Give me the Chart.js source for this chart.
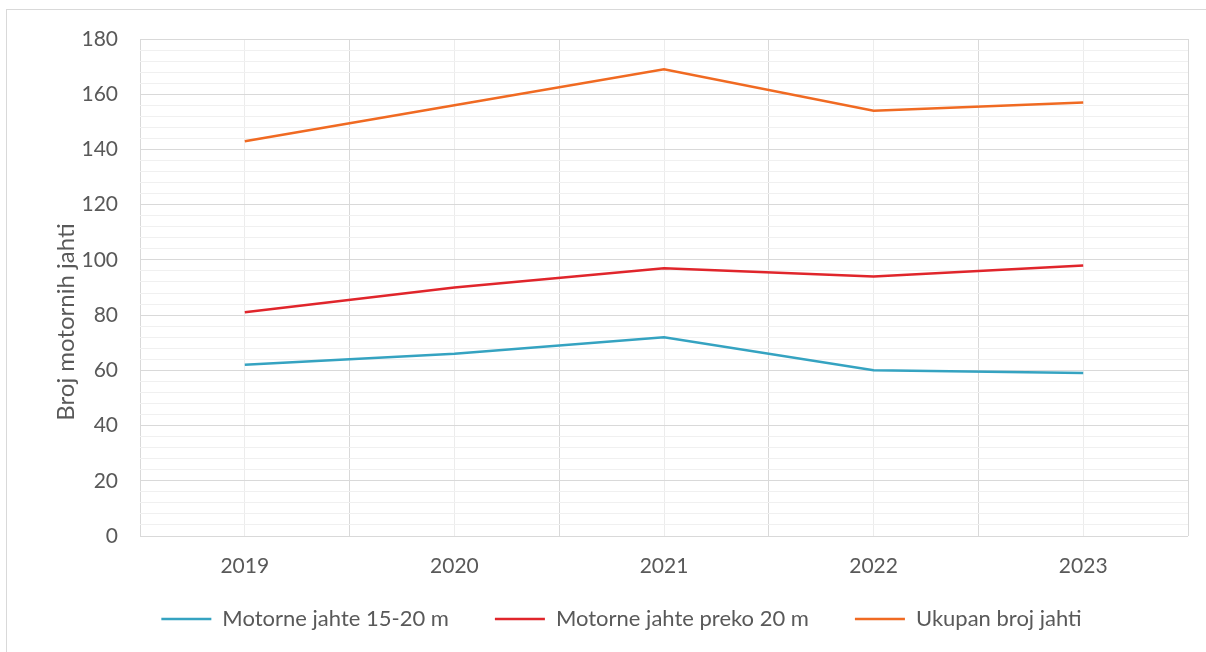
<!DOCTYPE html>
<html>
<head>
<meta charset="utf-8">
<script src="https://cdn.jsdelivr.net/npm/chart.js@4"></script>
<style>
  html, body { margin: 0; padding: 0; background: #fff; overflow: hidden; }
  body { width: 1206px; height: 652px; position: relative; }
  #frame { position: absolute; left: 6px; top: 9px; width: 1300px; height: 800px; border: 1px solid #d9d9d9; box-sizing: border-box; }
  #chart { position: absolute; left: 0; top: 0; }
</style>
</head>
<body>
<div id="frame"></div>
<canvas id="chart" width="1206" height="659"></canvas>
<script>
(function(){
  'use strict';

  var years = ['2019', '2020', '2021', '2022', '2023'];
  var jahte15do20 = [62, 66, 72, 60, 59];
  var jahtePreko20 = [81, 90, 97, 94, 98];
  var ukupno = [143, 156, 169, 154, 157];
  var seriesNames = ['Motorne jahte 15-20 m', 'Motorne jahte preko 20 m', 'Ukupan broj jahti'];
  var yTitle = 'Broj motornih jahti';

  var textColor = '#595959';
  var font = 'Lato, "Open Sans", sans-serif';
  var LEGEND_LIFT = 19;
  var TITLE_X = 66, TITLE_Y = 322;

  function points(arr){
    return arr.map(function(v, i){ return { x: i, y: v }; });
  }

  function line(label, values, color){
    return {
      label: label,
      data: points(values),
      borderColor: color,
      backgroundColor: color,
      borderWidth: 2.5,
      pointRadius: 0,
      pointHoverRadius: 0,
      tension: 0,
      pointStyle: 'line'
    };
  }

  // legend sits closer to the axis labels than its item padding allows
  var legendLift = {
    id: 'legendLift',
    afterLayout: function(chart){
      var l = chart.legend;
      if (l) { l.top -= LEGEND_LIFT; l.bottom -= LEGEND_LIFT; }
    }
  };

  // axis title is centred on the whole chart, not on the plot
  var yAxisTitle = {
    id: 'yAxisTitle',
    afterDraw: function(chart){
      var ctx = chart.ctx;
      ctx.save();
      ctx.translate(TITLE_X, TITLE_Y);
      ctx.rotate(-Math.PI / 2);
      ctx.font = '24px ' + font;
      ctx.fillStyle = textColor;
      ctx.textAlign = 'center';
      ctx.textBaseline = 'middle';
      ctx.fillText(yTitle, 0, 0);
      ctx.restore();
    }
  };

  new Chart(document.getElementById('chart'), {
    type: 'line',
    data: {
      datasets: [
        line(seriesNames[0], jahte15do20, '#35a3c1'),
        line(seriesNames[1], jahtePreko20, '#e0252b'),
        line(seriesNames[2], ukupno, '#f06a22')
      ]
    },
    plugins: [legendLift, yAxisTitle],
    options: {
      responsive: false,
      animation: false,
      layout: { padding: { left: 50, right: 13, top: 39, bottom: 0 } },
      plugins: {
        tooltip: { enabled: false },
        legend: {
          position: 'bottom',
          labels: {
            usePointStyle: true,
            pointStyleWidth: 50,
            padding: 46,
            color: textColor,
            font: { family: font, size: 22 }
          }
        }
      },
      scales: {
        x: {
          type: 'linear',
          min: -0.5,
          max: 4.5,
          afterFit: function(s){ s.height = 45; },
          border: { display: false },
          grid: {
            drawTicks: false,
            color: function(ctx){
              return Number.isInteger(ctx.tick.value) ? '#ececec' : '#d9d9d9';
            }
          },
          ticks: {
            stepSize: 0.5,
            autoSkip: false,
            maxRotation: 0,
            padding: 18,
            color: textColor,
            font: { family: font, size: 21 },
            callback: function(v){
              return Number.isInteger(v) ? years[v] : '';
            }
          }
        },
        y: {
          min: 0,
          max: 180,
          afterFit: function(s){ s.width = 90; },
          border: { display: false },
          grid: {
            drawTicks: false,
            color: function(ctx){
              return ctx.tick.value % 20 === 0 ? '#d9d9d9' : '#f0f0f0';
            }
          },
          ticks: {
            stepSize: 4,
            autoSkip: false,
            padding: 22,
            color: textColor,
            font: { family: font, size: 21 },
            callback: function(v){
              return v % 20 === 0 ? String(v) : '';
            }
          },
          title: { display: false }
        }
      }
    }
  });
})();
</script>
</body>
</html>
